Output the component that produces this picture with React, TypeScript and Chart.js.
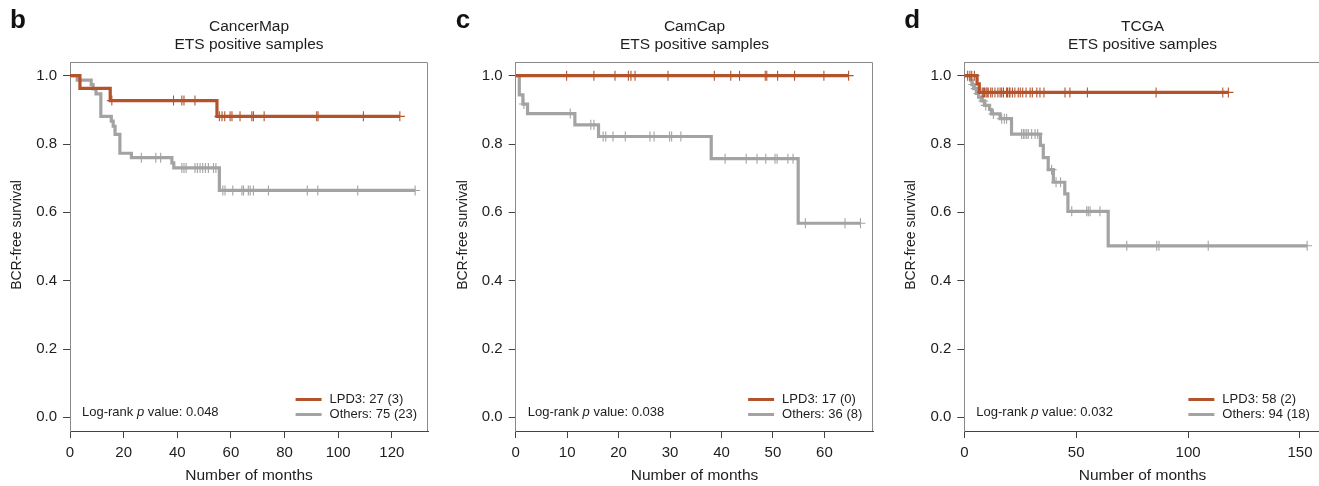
import React, { useEffect, useRef } from "react";
import { Chart, registerables } from "chart.js";

Chart.register(...registerables);

const FONT = '"Liberation Sans", Arial, Helvetica, sans-serif';
const ORANGE = "#b4532b";
const GRAY = "#a3a3a3";
const TEXT = "#1e1e1e";
const SUBTITLE = "ETS positive samples";
const X_TITLE = "Number of months";
const Y_TITLE = "BCR-free survival";

const yTicks = [0, 0.2, 0.4, 0.6, 0.8, 1.0];

// ---------- Panel b: CancerMap ----------
const bXTicks = [0, 20, 40, 60, 80, 100, 120];
const bLpdTimes = [0, 3.7, 15.0, 54.8, 123.0];
const bLpdSurv = [1, 0.963, 0.927, 0.881, 0.881];
const bLpdCensored = [15.6, 38.6, 41.7, 42.5, 46.6, 55.7, 56.7, 57.7, 59.7, 60.4, 63.4, 67.8, 68.4, 72.4, 92.0, 92.5, 109.4, 123.0];
const bOthTimes = [0, 2.7, 7.9, 8.6, 9.7, 11.5, 15.4, 16.1, 16.8, 18.6, 22.9, 38.0, 38.7, 55.7, 128.7];
const bOthSurv = [1, 0.987, 0.974, 0.961, 0.947, 0.881, 0.867, 0.852, 0.828, 0.773, 0.76, 0.745, 0.73, 0.664, 0.664];
const bOthCensored = [26.6, 32.0, 33.8, 41.7, 42.5, 43.3, 46.6, 47.5, 48.5, 49.5, 50.5, 51.6, 53.5, 54.4, 57.0, 57.8, 60.7, 64.1, 64.7, 66.5, 67.2, 68.4, 74.0, 88.5, 92.4, 107.3, 128.7];

// ---------- Panel c: CamCap ----------
const cXTicks = [0, 10, 20, 30, 40, 50, 60];
const cLpdTimes = [0, 64.7];
const cLpdSurv = [1, 1];
const cLpdCensored = [9.9, 15.2, 19.3, 21.9, 22.4, 23.2, 29.6, 38.6, 41.8, 43.5, 48.5, 48.8, 50.9, 54.2, 59.9, 64.7];
const cOthTimes = [0, 0.7, 1.4, 2.3, 11.5, 16.1, 38.0, 54.9, 67.0];
const cOthSurv = [1, 0.944, 0.917, 0.889, 0.856, 0.822, 0.757, 0.568, 0.568];
const cOthCensored = [1.6, 10.6, 14.6, 15.2, 17.0, 17.5, 18.9, 21.3, 26.1, 26.9, 29.9, 30.3, 32.1, 40.7, 44.8, 46.9, 48.6, 50.4, 50.8, 52.9, 53.9, 56.3, 64.0, 67.0];

// ---------- Panel d: TCGA ----------
const dXTicks = [0, 50, 100, 150];
const dLpdTimes = [0, 5.7, 6.7, 118.0];
const dLpdSurv = [1, 0.976, 0.951, 0.951];
const dLpdCensored = [1.5, 2.5, 3.3, 4.5, 8.0, 8.5, 9.0, 9.7, 10.2, 10.7, 11.8, 12.5, 13.7, 15.0, 16.0, 16.7, 17.5, 18.9, 19.3, 20.1, 20.4, 21.5, 22.6, 24.1, 25.0, 26.1, 27.6, 29.4, 30.4, 32.4, 33.8, 35.6, 45.0, 47.2, 55.0, 85.7, 115.5, 118.0];
const dOthTimes = [0, 2.8, 3.4, 4.2, 5.4, 6.4, 7.6, 9.1, 11.3, 12.1, 16.0, 21.1, 34.0, 35.3, 37.5, 39.8, 44.9, 46.3, 64.3, 153.2];
const dOthSurv = [1, 0.987, 0.974, 0.962, 0.948, 0.937, 0.926, 0.913, 0.901, 0.888, 0.874, 0.829, 0.796, 0.76, 0.725, 0.688, 0.654, 0.603, 0.502, 0.502];
const dOthCensored = [4.0, 5.1, 6.3, 8.5, 9.6, 13.0, 16.7, 17.9, 18.9, 25.6, 26.4, 27.1, 27.9, 28.6, 30.1, 31.6, 32.8, 39.0, 41.0, 43.0, 48.0, 54.7, 55.4, 56.2, 60.6, 72.6, 86.0, 87.0, 109.0, 153.2];

type Panel = {
  letter: string;
  title: string;
  xTicks: number[];
  xMax: number;
  left: number;
  width: number;
  yAxisWidth: number;
  padRight: number;
  lpdTimes: number[];
  lpdSurv: number[];
  lpdCens: number[];
  othTimes: number[];
  othSurv: number[];
  othCens: number[];
  lpdLabel: string;
  othLabel: string;
  pValue: string;
};

const panels: Panel[] = [
  {
    letter: "b", title: "CancerMap", xTicks: bXTicks, xMax: 133.5,
    left: 0, width: 440, yAxisWidth: 70, padRight: 12,
    lpdTimes: bLpdTimes, lpdSurv: bLpdSurv, lpdCens: bLpdCensored,
    othTimes: bOthTimes, othSurv: bOthSurv, othCens: bOthCensored,
    lpdLabel: "LPD3: 27 (3)", othLabel: "Others: 75 (23)", pValue: "0.048",
  },
  {
    letter: "c", title: "CamCap", xTicks: cXTicks, xMax: 69.5,
    left: 440, width: 450, yAxisWidth: 75.7, padRight: 16.7,
    lpdTimes: cLpdTimes, lpdSurv: cLpdSurv, lpdCens: cLpdCensored,
    othTimes: cOthTimes, othSurv: cOthSurv, othCens: cOthCensored,
    lpdLabel: "LPD3: 17 (0)", othLabel: "Others: 36 (8)", pValue: "0.038",
  },
  {
    letter: "d", title: "TCGA", xTicks: dXTicks, xMax: 159.3,
    left: 890, width: 440, yAxisWidth: 74.3, padRight: 9.2,
    lpdTimes: dLpdTimes, lpdSurv: dLpdSurv, lpdCens: dLpdCensored,
    othTimes: dOthTimes, othSurv: dOthSurv, othCens: dOthCensored,
    lpdLabel: "LPD3: 58 (2)", othLabel: "Others: 94 (18)", pValue: "0.032",
  },
];

function stepAt(times: number[], surv: number[], t: number) {
  let s = surv[0];
  for (let i = 0; i < times.length; i++) {
    if (times[i] <= t) s = surv[i];
    else break;
  }
  return s;
}

function makeDecor(p: Panel) {
  return {
    id: "decor_" + p.letter,
    beforeDatasetsDraw(chart: any) {
      const { ctx, chartArea: a } = chart;
      ctx.save();
      ctx.strokeStyle = "#8a8a8a";
      ctx.lineWidth = 1;
      const top = Math.round(a.top) + 0.5;
      const right = Math.round(a.right) - 0.5;
      ctx.beginPath();
      ctx.moveTo(a.left, top);
      ctx.lineTo(right, top);
      ctx.lineTo(right, a.bottom);
      ctx.stroke();
      ctx.restore();
    },
    afterDraw(chart: any) {
      const { ctx, chartArea: a } = chart;
      const cx = (a.left + a.right) / 2;
      ctx.save();
      ctx.textBaseline = "middle";
      // panel letter
      ctx.fillStyle = "#111";
      ctx.textAlign = "left";
      ctx.font = `bold 26px ${FONT}`;
      ctx.fillText(p.letter, a.left - 60, 21);
      // titles
      ctx.fillStyle = TEXT;
      ctx.textAlign = "center";
      ctx.font = `15.5px ${FONT}`;
      ctx.fillText(p.title, cx, 27);
      ctx.fillText(SUBTITLE, cx, 45);
      ctx.fillText(X_TITLE, cx, 476);
      // y title
      ctx.save();
      ctx.translate(a.left - 53, 235);
      ctx.rotate(-Math.PI / 2);
      ctx.font = `14px ${FONT}`;
      ctx.fillText(Y_TITLE, 0, 0);
      ctx.restore();
      // log-rank p value
      ctx.textAlign = "left";
      const ly = 412.5;
      let lx = a.left + 12;
      ctx.font = `13px ${FONT}`;
      const part1 = "Log-rank ";
      ctx.fillText(part1, lx, ly);
      lx += ctx.measureText(part1).width;
      ctx.font = `italic 13px ${FONT}`;
      ctx.fillText("p", lx, ly);
      lx += ctx.measureText("p").width;
      ctx.font = `13px ${FONT}`;
      ctx.fillText(" value: " + p.pValue, lx, ly);
      // legend
      const w = Math.max(ctx.measureText(p.lpdLabel).width, ctx.measureText(p.othLabel).width);
      const tx = a.right - 11 - w;
      const rows: [string, string, number][] = [
        [p.lpdLabel, ORANGE, 399.5],
        [p.othLabel, GRAY, 414.5],
      ];
      rows.forEach(([label, color, y]) => {
        ctx.strokeStyle = color;
        ctx.lineWidth = 3;
        ctx.beginPath();
        ctx.moveTo(tx - 34, y);
        ctx.lineTo(tx - 8, y);
        ctx.stroke();
        ctx.fillStyle = TEXT;
        ctx.fillText(label, tx, y);
      });
      ctx.restore();
    },
  };
}

function KMPanel({ p }: { p: Panel }) {
  const ref = useRef<HTMLCanvasElement>(null);
  useEffect(() => {
    if (!ref.current) return;
    const curve = (times: number[], surv: number[]) => times.map((t, i) => ({ x: t, y: surv[i] }));
    const cens = (times: number[], surv: number[], c: number[]) => c.map((t) => ({ x: t, y: stepAt(times, surv, t) }));
    const chart = new Chart(ref.current, {
      type: "line",
      data: {
        datasets: [
          {
            label: "LPD3",
            data: curve(p.lpdTimes, p.lpdSurv),
            stepped: "before",
            borderColor: ORANGE,
            borderWidth: 3.2,
            pointRadius: 0,
            fill: false,
            order: 1,
          },
          {
            label: "LPD3 censored",
            data: cens(p.lpdTimes, p.lpdSurv, p.lpdCens),
            showLine: false,
            pointStyle: "cross",
            pointRadius: 5,
            borderColor: ORANGE,
            backgroundColor: ORANGE,
            pointBorderWidth: 1.1,
            order: 0,
          },
          {
            label: "Others",
            data: curve(p.othTimes, p.othSurv),
            stepped: "before",
            borderColor: GRAY,
            borderWidth: 3.2,
            pointRadius: 0,
            fill: false,
            order: 3,
          },
          {
            label: "Others censored",
            data: cens(p.othTimes, p.othSurv, p.othCens),
            showLine: false,
            pointStyle: "cross",
            pointRadius: 5,
            borderColor: GRAY,
            backgroundColor: GRAY,
            pointBorderWidth: 1.1,
            order: 2,
          },
        ],
      } as any,
      options: {
        animation: false,
        responsive: false,
        events: [],
        layout: { padding: { top: 62, left: 0, right: p.padRight, bottom: 0 } },
        plugins: { legend: { display: false }, tooltip: { enabled: false }, title: { display: false } },
        scales: {
          x: {
            type: "linear",
            min: 0,
            max: p.xMax,
            afterBuildTicks: (s: any) => {
              s.ticks = p.xTicks.map((v) => ({ value: v }));
            },
            afterFit: (s: any) => {
              s.height = 55;
            },
            grid: { drawOnChartArea: false, drawTicks: true, tickLength: 7, color: "#444", lineWidth: 1 },
            border: { display: true, color: "#444", width: 1 },
            ticks: {
              font: { family: FONT, size: 15 },
              color: TEXT,
              padding: 6,
              maxRotation: 0,
              autoSkip: false,
              callback: (v: any) => String(v),
            },
          },
          y: {
            type: "linear",
            min: -0.04,
            max: 1.04,
            afterBuildTicks: (s: any) => {
              s.ticks = yTicks.map((v) => ({ value: v }));
            },
            afterFit: (s: any) => {
              s.width = p.yAxisWidth;
            },
            grid: { drawOnChartArea: false, drawTicks: true, tickLength: 7, color: "#444", lineWidth: 1 },
            border: { display: true, color: "#8a8a8a", width: 1 },
            ticks: {
              font: { family: FONT, size: 15 },
              color: TEXT,
              padding: 6,
              autoSkip: false,
              callback: (v: any) => Number(v).toFixed(1),
            },
          },
        },
      } as any,
      plugins: [makeDecor(p)],
    });
    return () => chart.destroy();
  }, [p]);
  return (
    <canvas
      ref={ref}
      width={p.width}
      height={486}
      style={{ position: "absolute", left: p.left, top: 0, width: p.width, height: 486, display: "block" }}
    />
  );
}

export default function App() {
  return (
    <div
      style={{
        position: "fixed",
        left: 0,
        top: 0,
        width: 1319,
        height: 486,
        overflow: "hidden",
        background: "#ffffff",
      }}
    >
      {panels.map((p) => (
        <KMPanel key={p.letter} p={p} />
      ))}
    </div>
  );
}
